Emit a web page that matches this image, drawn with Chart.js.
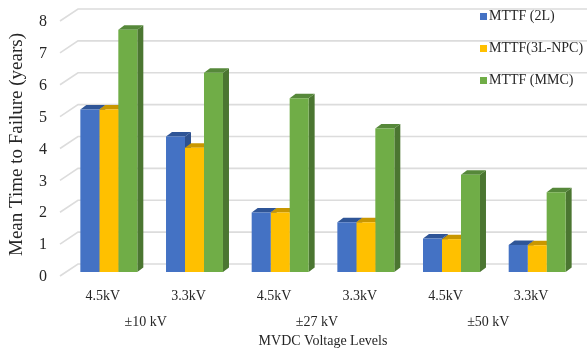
<!DOCTYPE html>
<html><head><meta charset="utf-8">
<script src="https://cdn.jsdelivr.net/npm/chart.js@4/dist/chart.umd.min.js"></script>
<style>html,body{margin:0;padding:0;background:#fff}#wrap{width:587px;height:352px}</style>
</head><body><div id="wrap"><canvas id="c" width="587" height="352"></canvas></div>
<script>
// Device voltage rating per bar group, and the MVDC bus level each pair belongs to
const ratings = ['4.5kV', '3.3kV', '4.5kV', '3.3kV', '4.5kV', '3.3kV'];
const busLevels = ['±10 kV', '±27 kV', '±50 kV'];
const yTicks = [0, 1, 2, 3, 4, 5, 6, 7, 8];

// Mean time to failure in years for each converter topology
const seriesNames = ['MTTF (2L)', 'MTTF(3L-NPC)', 'MTTF (MMC)'];
const mttf2L  = [5.10, 4.25, 1.87, 1.56, 1.05, 0.85];
const mttf3L  = [5.10, 3.90, 1.87, 1.56, 1.03, 0.84];
const mttfMMC = [7.60, 6.25, 5.45, 4.50, 3.05, 2.50];

const faceColors = ['#4472C4', '#FFC000', '#70AD47'];
const topColors  = ['#2F5597', '#C99700', '#56883A'];
const sideColors = ['#2F528F', '#B98A00', '#4B7631'];

const FONT = "'Liberation Serif', 'Times New Roman', serif";
const TEXT = '#262626';
const DX = 6, DY = 4.5;   // bar depth offset

// Perspective back-wall gridlines
const wallGrid = {
  id: 'wallGrid',
  beforeDatasetsDraw(chart) {
    const { ctx, chartArea, scales } = chart;
    const y = scales.y;
    ctx.save();
    ctx.strokeStyle = '#dcdcdc';
    ctx.lineWidth = 1.6;
    yTicks.forEach(v => {
      const py = y.getPixelForValue(v);
      ctx.beginPath();
      ctx.moveTo(chartArea.left - 6, py + 4);
      ctx.lineTo(chartArea.left + 12, py - 8);
      ctx.lineTo(chart.width, py - 8);
      ctx.stroke();
    });
    ctx.restore();
  }
};

// Top and side faces that give each column its depth
const columnDepth = {
  id: 'columnDepth',
  beforeDatasetsDraw(chart) {
    const { ctx } = chart;
    ctx.save();
    chart.data.datasets.forEach((ds, di) => {
      const meta = chart.getDatasetMeta(di);
      meta.data.forEach(bar => {
        const l = bar.x - bar.width / 2, r = bar.x + bar.width / 2;
        const t = bar.y, b = bar.base;
        ctx.fillStyle = sideColors[di];
        ctx.beginPath();
        ctx.moveTo(r, t); ctx.lineTo(r + DX, t - DY);
        ctx.lineTo(r + DX, b - DY); ctx.lineTo(r, b);
        ctx.closePath(); ctx.fill();
        ctx.fillStyle = topColors[di];
        ctx.beginPath();
        ctx.moveTo(l, t); ctx.lineTo(l + DX, t - DY);
        ctx.lineTo(r + DX, t - DY); ctx.lineTo(r, t);
        ctx.closePath(); ctx.fill();
      });
    });
    ctx.restore();
  }
};

// Legend in the upper right corner of the plot
const cornerLegend = {
  id: 'cornerLegend',
  afterDraw(chart) {
    const { ctx } = chart;
    const x0 = chart.width - 107;
    ctx.save();
    ctx.font = '14px ' + FONT;
    ctx.textBaseline = 'middle';
    chart.data.datasets.forEach((ds, i) => {
      const cy = 16.5 + i * 32;
      ctx.fillStyle = ds.backgroundColor;
      ctx.fillRect(x0, cy - 3.5, 7, 7);
      ctx.fillStyle = TEXT;
      ctx.fillText(ds.label, x0 + 9, cy);
    });
    ctx.restore();
  }
};

new Chart(document.getElementById('c'), {
  type: 'bar',
  data: {
    labels: ratings,
    datasets: [
      { label: seriesNames[0], data: mttf2L,  backgroundColor: faceColors[0] },
      { label: seriesNames[1], data: mttf3L,  backgroundColor: faceColors[1] },
      { label: seriesNames[2], data: mttfMMC, backgroundColor: faceColors[2] }
    ]
  },
  options: {
    responsive: false,
    animation: false,
    devicePixelRatio: 1,
    layout: { padding: { top: 17, right: 7, bottom: 2, left: 6 } },
    datasets: { bar: { categoryPercentage: 0.665, barPercentage: 1, borderWidth: 0 } },
    plugins: { legend: { display: false }, tooltip: { enabled: false } },
    scales: {
      x: {
        position: 'bottom',
        grid: { display: false, drawTicks: false },
        border: { display: false },
        ticks: { font: { family: FONT, size: 14 }, color: TEXT, padding: 16, labelOffset: -6, maxRotation: 0 },
        afterFit(s) { s.height = 33; }
      },
      x2: {
        type: 'category',
        position: 'bottom',
        labels: busLevels,
        offset: true,
        grid: { display: false, drawTicks: false },
        border: { display: false },
        ticks: { font: { family: FONT, size: 14 }, color: TEXT, padding: 9, labelOffset: -6, maxRotation: 0 },
        title: { display: true, text: 'MVDC Voltage Levels', font: { family: FONT, size: 14 }, color: TEXT, padding: { top: 2, bottom: 0 } },
        afterFit(s) { s.height = 45; }
      },
      y: {
        min: 0, max: 8,
        afterBuildTicks(s) { s.ticks = yTicks.map(v => ({ value: v })); },
        grid: { display: false, drawTicks: false },
        border: { display: false },
        ticks: { font: { family: FONT, size: 16 }, color: TEXT, padding: 19, labelOffset: 5 },
        title: { display: true, text: 'Mean Time to Failure (years)', font: { family: FONT, size: 19 }, color: TEXT, padding: { top: 0, bottom: 0 } },
        afterFit(s) { s.width = 60; s.paddingTop = 0; s.paddingBottom = 0; }
      }
    }
  },
  plugins: [wallGrid, columnDepth, cornerLegend]
});
</script>
</body></html>
